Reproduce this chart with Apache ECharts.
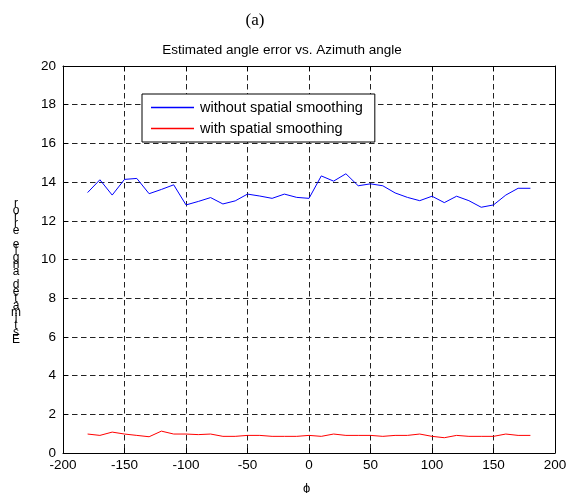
<!DOCTYPE html>
<html>
<head>
<meta charset="utf-8">
<script src="https://cdn.jsdelivr.net/npm/echarts@6/dist/echarts.min.js"></script>
<style>
  html, body { margin: 0; padding: 0; background: #fff; }
  #chart { width: 570px; height: 493px; }
</style>
</head>
<body>
<div id="chart"></div>
<script>
// azimuth angles, -180 .. 180 step 10
const phi = [-180, -170, -160, -150, -140, -130, -120, -110, -100, -90, -80, -70, -60, -50, -40, -30, -20, -10,
  0, 10, 20, 30, 40, 50, 60, 70, 80, 90, 100, 110, 120, 130, 140, 150, 160, 170, 180]

const withoutSmoothing = [13.46, 14.12, 13.33, 14.14, 14.19, 13.40, 13.62, 13.86, 12.82, 13.00, 13.20, 12.87, 13.03, 13.38, 13.28, 13.16, 13.38, 13.21,
  13.16, 14.32, 14.05, 14.43, 13.81, 13.91, 13.81, 13.44, 13.21, 13.04, 13.27, 12.94, 13.27, 13.04, 12.70, 12.82, 13.33, 13.68, 13.68]

const withSmoothing = [0.98, 0.91, 1.08, 0.98, 0.91, 0.84, 1.13, 0.98, 0.98, 0.95, 0.98, 0.86, 0.86, 0.91, 0.91, 0.86, 0.86, 0.86,
  0.91, 0.86, 0.98, 0.91, 0.91, 0.91, 0.86, 0.91, 0.91, 0.98, 0.86, 0.79, 0.91, 0.86, 0.86, 0.86, 0.98, 0.91, 0.91]

const yLabel = 'Estimated angle error'

const font = "'Liberation Sans', Arial, sans-serif"
const chart = echarts.init(document.getElementById('chart'))

const gridLine = { show: true, lineStyle: { color: '#222', type: [5.5, 3.5], width: 1 } }
const boxAxis = {
  axisLine: { show: true, onZero: false, lineStyle: { color: '#000', width: 1 } },
  axisTick: { show: true, inside: true, length: 5, lineStyle: { color: '#000' } },
  axisLabel: { show: false },
  splitLine: { show: false }
}

const option = {
  animation: false,
  backgroundColor: '#fff',
  grid: { left: 63, right: 15, top: 66, bottom: 40 },
  legend: {
    left: 142, top: 94,
    orient: 'vertical',
    padding: [6, 12, 6, 9],
    itemGap: 6,
    itemWidth: 43,
    itemHeight: 1.5,
    icon: 'rect',
    backgroundColor: '#fff',
    borderColor: '#000',
    borderWidth: 1,
    borderRadius: 0,
    textStyle: { fontFamily: font, fontSize: 14.5, color: '#000', padding: [0, 0, 0, 1] },
    data: ['without spatial smoothing', 'with spatial smoothing']
  },
  xAxis: [{
    type: 'value', min: -200, max: 200, interval: 50,
    axisLine: { onZero: false, lineStyle: { color: '#000' } },
    axisTick: { inside: true, length: 5, lineStyle: { color: '#000' } },
    axisLabel: { color: '#000', fontFamily: font, fontSize: 13.5, margin: 5 },
    splitLine: gridLine
  }, Object.assign({ type: 'value', min: -200, max: 200, interval: 50, position: 'top' }, boxAxis)],
  yAxis: [{
    type: 'value', min: 0, max: 20, interval: 2,
    axisLine: { show: true, onZero: false, lineStyle: { color: '#000' } },
    axisTick: { show: true, inside: true, length: 5, lineStyle: { color: '#000' } },
    axisLabel: { color: '#000', fontFamily: font, fontSize: 13.5, margin: 7 },
    splitLine: gridLine
  }, Object.assign({ type: 'value', min: 0, max: 20, interval: 2, position: 'right' }, boxAxis)],
  series: [{
    name: 'without spatial smoothing',
    type: 'line',
    data: phi.map((p, i) => [p, withoutSmoothing[i]]),
    symbol: 'none',
    lineStyle: { color: '#0000ff', width: 1 },
    itemStyle: { color: '#0000ff' },
    z: 3
  }, {
    name: 'with spatial smoothing',
    type: 'line',
    data: phi.map((p, i) => [p, withSmoothing[i]]),
    symbol: 'none',
    lineStyle: { color: '#ff0000', width: 1 },
    itemStyle: { color: '#ff0000' },
    z: 3
  }],
  graphic: [
    { type: 'text', x: 255, y: 21, style: { text: '(a)', fontFamily: "'Liberation Serif', 'Times New Roman', serif", fontSize: 17, fill: '#000', align: 'center', verticalAlign: 'middle' } },
    { type: 'text', x: 282, y: 50, style: { text: 'Estimated angle error vs. Azimuth angle', fontFamily: font, fontSize: 13.5, fill: '#000', align: 'center', verticalAlign: 'middle' } },
    { type: 'text', x: 303, y: 488, style: { text: 'ϕ', fontFamily: font, fontSize: 13, fill: '#000', align: 'left', verticalAlign: 'middle' } },
    {
      type: 'text', x: 16, y: 200,
      style: {
        text: yLabel.split('').reverse().join('\n'),
        fontFamily: font, fontSize: 12, lineHeight: 6.8, fill: '#000',
        align: 'center', verticalAlign: 'top'
      }
    }
  ]
}

chart.setOption(option)
</script>
</body>
</html>
